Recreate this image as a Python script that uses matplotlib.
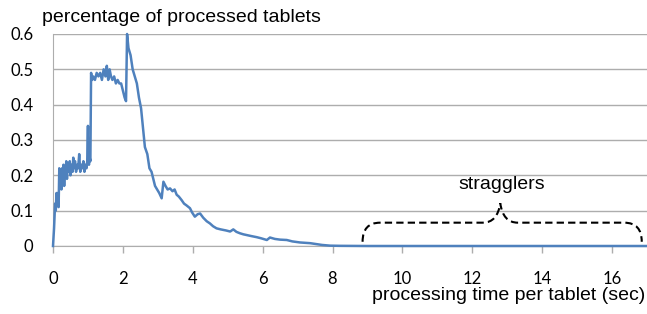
import matplotlib
matplotlib.use('Agg')
import matplotlib.pyplot as plt
from matplotlib.path import Path
from matplotlib.patches import PathPatch

# processing time per tablet (sec) and share of processed tablets
times = [0.00, 0.03, 0.06, 0.08, 0.10, 0.12, 0.14, 0.16, 0.18, 0.20,
         0.22, 0.24, 0.26, 0.28, 0.30, 0.32, 0.34, 0.36, 0.38, 0.40,
         0.42, 0.45, 0.48, 0.50, 0.53, 0.56, 0.58, 0.60, 0.63, 0.66,
         0.69, 0.72, 0.75, 0.78, 0.81, 0.84, 0.87, 0.90, 0.93, 0.96,
         0.98, 1.00, 1.01, 1.03, 1.05, 1.07, 1.09, 1.12, 1.15, 1.20,
         1.25, 1.30, 1.35, 1.40, 1.45, 1.50, 1.54, 1.58, 1.62, 1.66,
         1.70, 1.75, 1.80, 1.85, 1.90, 1.95, 2.00, 2.05, 2.09, 2.12,
         2.16, 2.22, 2.28, 2.34, 2.40, 2.46, 2.52, 2.58, 2.63, 2.70,
         2.76, 2.82, 2.87, 2.92, 2.98, 3.04, 3.11, 3.16, 3.22, 3.28,
         3.35, 3.42, 3.48, 3.54, 3.60, 3.68, 3.75, 3.82, 3.92, 3.98,
         4.06, 4.14, 4.21, 4.30, 4.40, 4.49, 4.58, 4.68, 4.80, 4.95,
         5.07, 5.16, 5.25, 5.35, 5.45, 5.54, 5.68, 5.83, 5.95, 6.05,
         6.12, 6.21, 6.35, 6.50, 6.69, 6.85, 7.07, 7.20, 7.36, 7.50,
         7.70, 7.93, 8.20, 9.00, 17.00]
share = [0.00, 0.05, 0.12, 0.10, 0.15, 0.13, 0.15, 0.11, 0.22, 0.18,
         0.21, 0.16, 0.22, 0.19, 0.23, 0.17, 0.22, 0.20, 0.24, 0.19,
         0.23, 0.21, 0.24, 0.20, 0.23, 0.21, 0.25, 0.22, 0.24, 0.21,
         0.23, 0.22, 0.26, 0.21, 0.23, 0.22, 0.24, 0.21, 0.23, 0.22,
         0.24, 0.34, 0.24, 0.23, 0.25, 0.24, 0.49, 0.47, 0.48, 0.47,
         0.49, 0.48, 0.49, 0.47, 0.50, 0.48, 0.51, 0.47, 0.50, 0.48,
         0.47, 0.48, 0.46, 0.47, 0.46, 0.46, 0.44, 0.42, 0.41, 0.60,
         0.56, 0.54, 0.50, 0.48, 0.46, 0.42, 0.39, 0.33, 0.28, 0.26,
         0.22, 0.21, 0.19, 0.17, 0.16, 0.15, 0.135, 0.182, 0.17, 0.16,
         0.163, 0.155, 0.16, 0.145, 0.14, 0.13, 0.12, 0.115, 0.107, 0.095,
         0.083, 0.09, 0.092, 0.08, 0.07, 0.064, 0.056, 0.05, 0.047, 0.044,
         0.041, 0.047, 0.04, 0.036, 0.033, 0.031, 0.028, 0.025, 0.022, 0.019,
         0.017, 0.024, 0.02, 0.018, 0.017, 0.013, 0.01, 0.009, 0.008, 0.006,
         0.003, 0.001, 0.0005, 0.0, 0.0]

x_ticks = [0, 2, 4, 6, 8, 10, 12, 14, 16]
y_ticks = [0, 0.1, 0.2, 0.3, 0.4, 0.5, 0.6]
y_labels = ['0', '0.1', '0.2', '0.3', '0.4', '0.5', '0.6']

# straggler brace: from, to, bottom, top, tip
brace_x0, brace_x1, brace_mid = 8.86, 16.85, 12.8
brace_lo, brace_hi, brace_tip = 0.012, 0.066, 0.121

fig = plt.figure(figsize=(6.47, 3.14), dpi=100)
ax = fig.add_axes([53 / 647, 68 / 314, 594 / 647, 212 / 314])

ax.plot(times, share, color='#4F81BD', lw=1.8, zorder=3, clip_on=False)

ax.set_xlim(0, 17)
ax.set_ylim(0, 0.6)
ax.set_xticks(x_ticks)
ax.set_yticks(y_ticks)
ax.set_yticklabels(y_labels)
ax.grid(axis='y', color='#ADADAD', lw=1)
ax.set_axisbelow(True)
for side in ['top', 'right']:
    ax.spines[side].set_visible(False)
for side in ['left', 'bottom']:
    ax.spines[side].set_color('#ADADAD')
ax.tick_params(axis='y', length=0, pad=14)
ax.tick_params(axis='x', length=5, width=1, color='#ADADAD', direction='out', pad=13)
for lab in ax.get_xticklabels() + ax.get_yticklabels():
    lab.set_fontfamily('Lato')
    lab.set_fontsize(12)

# dashed curly brace over the stragglers
r = 0.5
verts = [(brace_x0, brace_lo), (brace_x0, brace_hi), (brace_x0 + r, brace_hi),
         (brace_mid - r, brace_hi),
         (brace_mid - 0.08, brace_hi), (brace_mid, brace_tip),
         (brace_mid + 0.08, brace_hi), (brace_mid + r, brace_hi),
         (brace_x1 - r, brace_hi),
         (brace_x1, brace_hi), (brace_x1, brace_lo)]
codes = [Path.MOVETO, Path.CURVE3, Path.CURVE3,
         Path.LINETO,
         Path.CURVE3, Path.CURVE3,
         Path.CURVE3, Path.CURVE3,
         Path.LINETO,
         Path.CURVE3, Path.CURVE3]
ax.add_patch(PathPatch(Path(verts, codes), fill=False, ec='black', lw=1.5,
                       ls=(0, (3.5, 2)), zorder=4))
ax.text(12.84, 0.173, 'stragglers', ha='center', va='center',
        fontsize=14, family='Liberation Sans')

fig.text(42 / 647, 1 - 17 / 314, 'percentage of processed tablets', ha='left', va='center',
         fontsize=14, family='Liberation Sans')
fig.text(645 / 647, 1 - 296 / 314, 'processing time per tablet (sec)', ha='right', va='center',
         fontsize=14, family='Liberation Sans')

fig.savefig('out.png', dpi=100)
